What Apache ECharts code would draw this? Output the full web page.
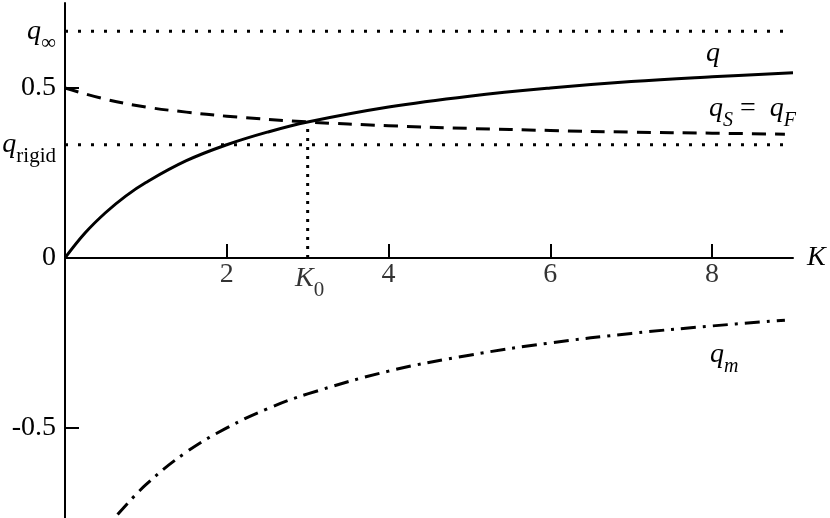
<!DOCTYPE html>
<html>
<head>
<meta charset="utf-8">
<script src="https://cdn.jsdelivr.net/npm/echarts@6/dist/echarts.min.js"></script>
<style>
  html, body { margin: 0; padding: 0; background: #fff; }
  #chart { width: 830px; height: 518px; }
</style>
</head>
<body>
<div id="chart"></div>
<script>
// values
const qK = [0, 0.25, 0.5, 0.75, 1, 1.5, 2, 2.5, 3, 4, 5, 6, 7, 8, 9];
const qValues = [0, 0.074, 0.133, 0.182, 0.222, 0.286, 0.333, 0.370, 0.400, 0.444, 0.476, 0.500, 0.519, 0.533, 0.545];
const qsK = [0, 0.5, 1, 1.5, 2, 3, 4, 5, 6, 7, 8, 8.9];
const qsValues = [0.500, 0.467, 0.444, 0.429, 0.417, 0.400, 0.389, 0.381, 0.375, 0.370, 0.367, 0.364];
const qmK = [0.65, 1, 1.5, 2, 2.5, 3, 4, 5, 6, 7, 8, 8.9];
const qmValues = [-0.755, -0.667, -0.571, -0.500, -0.444, -0.400, -0.333, -0.286, -0.250, -0.222, -0.200, -0.183];
const qInf = 0.667;
const qRigid = 0.333;
const K0 = 3;
const qAtK0 = 0.400;
const kMax = 9;
const xTicks = [2, 4, 6, 8];
const xLabels = [2, K0, 4, 6, 8];
const yLabels = [-0.5, 0, qRigid, 0.5, qInf];
const yTicks = [-0.5, 0.5];

const serif = '"Liberation Serif", "DejaVu Serif", serif';
const zip = (xs, ys) => xs.map((x, i) => [x, ys[i]]);

const rich = {
  n: { fontFamily: serif, fontSize: 28, color: '#000' },
  i: { fontFamily: serif, fontSize: 28, fontStyle: 'italic', color: '#000' },
  sub: { fontFamily: serif, fontSize: 21, color: '#000', padding: [24, 0, 0, 0] },
  subi: { fontFamily: serif, fontSize: 20, fontStyle: 'italic', color: '#000', padding: [24, 0, 0, 0] }
};

function tag(coord, text) {
  return {
    symbol: 'circle', symbolSize: 0, silent: true,
    data: [{ coord: coord, label: { show: true, position: 'inside', formatter: text, rich: rich } }]
  };
}

const chart = echarts.init(document.getElementById('chart'), null, { renderer: 'canvas' });
const option = {
  animation: false,
  grid: { left: 65, right: 37, top: 3, bottom: 0, containLabel: false, outerBoundsMode: 'none' },
  xAxis: {
    type: 'value', min: 0, max: kMax,
    axisLine: { onZero: true, lineStyle: { color: '#000', width: 2 } },
    axisTick: { show: true, inside: true, length: 14, customValues: xTicks, lineStyle: { color: '#000', width: 2 } },
    axisLabel: { show: false },
    splitLine: { show: false },
    name: '{i|K}', nameLocation: 'end', nameGap: 14,
    nameTextStyle: { rich: rich, fontFamily: serif, fontSize: 28 }
  },
  yAxis: {
    type: 'value', min: -0.765, max: 0.75,
    axisLine: { onZero: false, lineStyle: { color: '#000', width: 2 } },
    axisTick: { show: true, inside: true, length: 14, customValues: yTicks, lineStyle: { color: '#000', width: 2 } },
    axisLabel: {
      customValues: yLabels, margin: 9, rich: rich,
      fontFamily: serif, fontSize: 28, color: '#000',
      formatter: v => {
        if (v === qInf) return '{i|q}{sub|∞}';
        if (v === qRigid) return '{i|q}{sub|rigid}';
        return '{n|' + v + '}';
      }
    },
    splitLine: { show: false }
  },
  series: [
    {
      name: 'q', type: 'line', data: zip(qK, qValues), smooth: 0.4,
      symbol: 'none', lineStyle: { color: '#000', width: 3 },
      markPoint: tag([8.01, 0.60], '{i|q}')
    },
    {
      name: 'qS', type: 'line', data: zip(qsK, qsValues), smooth: 0.4,
      symbol: 'none', lineStyle: { color: '#000', width: 3, type: [14, 9] },
      markPoint: tag([8.5, 0.44], '{i|q}{subi|S}{n| =  }{i|q}{subi|F}')
    },
    {
      name: 'qm', type: 'line', data: zip(qmK, qmValues), smooth: 0.4,
      symbol: 'none', lineStyle: { color: '#000', width: 3, type: [15, 7, 3, 7] },
      markPoint: tag([8.15, -0.285], '{i|q}{subi|m}')
    },
    {
      name: 'qInf', type: 'line', data: [[0, qInf], [kMax, qInf]],
      symbol: 'none', lineStyle: { color: '#000', width: 3, type: [3, 10] }
    },
    {
      name: 'qRigid', type: 'line', data: [[0, qRigid], [kMax, qRigid]],
      symbol: 'none', lineStyle: { color: '#000', width: 3, type: [3, 10] }
    },
    {
      name: 'K0', type: 'line', data: [[K0, 0], [K0, qAtK0]],
      symbol: 'none', lineStyle: { color: '#000', width: 3, type: [3, 6] }
    },
    {
      // x tick labels sitting under the zero line
      name: 'xLabels', type: 'scatter', silent: true, symbolSize: 0,
      data: xLabels.map(k => k === K0
        ? { value: [k, 0], label: { offset: [2, -5] } }
        : [k, 0]),
      label: {
        show: true, position: 'bottom', distance: 3, rich: rich,
        formatter: p => p.value[0] === K0 ? '{i|K}{sub|0}' : '{n|' + p.value[0] + '}'
      }
    }
  ]
};
chart.setOption(option);
</script>
</body>
</html>
